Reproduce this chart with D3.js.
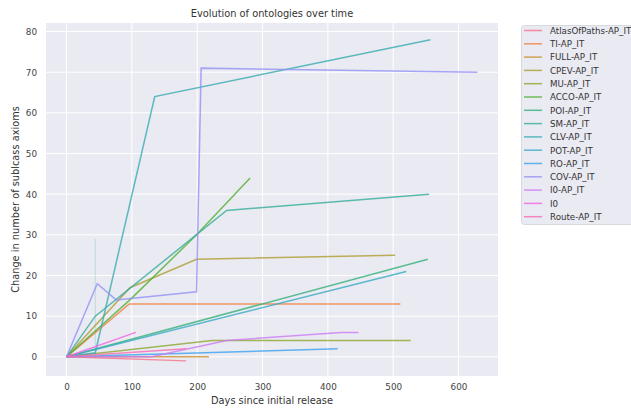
<!DOCTYPE html>
<html><head><meta charset="utf-8">
<script src="https://cdn.jsdelivr.net/npm/d3@7"></script>
<style>body{margin:0;background:#fff;} text{font-family:"DejaVu Sans",sans-serif;}</style>
</head><body>
<svg id="c" width="631" height="409"></svg>
<script>
const seriesNames = ["AtlasOfPaths-AP_IT","TI-AP_IT","FULL-AP_IT","CPEV-AP_IT","MU-AP_IT","ACCO-AP_IT","POI-AP_IT","SM-AP_IT","CLV-AP_IT","POT-AP_IT","RO-AP_IT","COV-AP_IT","I0-AP_IT","I0","Route-AP_IT"];
const seriesDays = [
  [0,183],
  [0,96,511],
  [0,218],
  [0,97,199,503],
  [0,223,527],
  [0,97,199,281],
  [0,553],
  [0,44,245,555],
  [0,44,135,557],
  [0,520],
  [0,415],
  [0,47,76,199,206,629],
  [0,130,245,420,447],
  [0,106],
  [0,183]
];
const seriesValues = [
  [0,-1],
  [0,13,13],
  [0,0],
  [0,17,24,25],
  [0,4,4],
  [0,14,30,44],
  [0,24],
  [0,10,36,40],
  [0,1,64,78],
  [0,21],
  [0,2],
  [0,18,14,16,71,70],
  [0,0,4,6,6],
  [0,6],
  [0,2]
];
const colors = ["#f77189","#f07e3f","#c99132","#ae9d31","#8fa631","#50b131","#33b07a","#35ae9a","#37abb0","#38a9c5","#3ba3ec","#9491f4","#cc7af4","#f363e2","#f66bb3"];
// confidence band (zero-width) for CLV at duplicated day
const bandDay = 44, bandLow = 0, bandHigh = 29;
const xTicks = [0,100,200,300,400,500,600];
const yTicks = [0,10,20,30,40,50,60,70,80];

const svg = d3.select("#c");
const L=46, R=498, T=23, B=376;
const x = d3.scaleLinear().domain([-31.45,660.45]).range([L,R]);
const y = d3.scaleLinear().domain([-4.72,82.1]).range([B,T]);

svg.append("rect").attr("x",L).attr("y",T).attr("width",R-L).attr("height",B-T).attr("fill","#eaeaf2");
const g = svg.append("g");
g.selectAll(".gx").data(xTicks).enter().append("line")
  .attr("x1",d=>x(d)).attr("x2",d=>x(d)).attr("y1",T).attr("y2",B)
  .attr("stroke","#fff").attr("stroke-width",1);
g.selectAll(".gy").data(yTicks).enter().append("line")
  .attr("y1",d=>y(d)).attr("y2",d=>y(d)).attr("x1",L).attr("x2",R)
  .attr("stroke","#fff").attr("stroke-width",1);

const xAxis = d3.axisBottom(x).tickValues(xTicks).tickSize(0).tickPadding(8);
const yAxis = d3.axisLeft(y).tickValues(yTicks).tickSize(0).tickPadding(9);
const gx = svg.append("g").attr("transform",`translate(0,${B})`).call(xAxis);
const gy = svg.append("g").attr("transform",`translate(${L},0)`).call(yAxis);
[gx,gy].forEach(a=>{a.select(".domain").remove();
  a.selectAll("text").attr("fill","#444").style("font-size","8.8px").style("font-family","DejaVu Sans");});

// band
svg.append("line").attr("x1",x(bandDay)).attr("x2",x(bandDay)).attr("y1",y(bandLow)).attr("y2",y(bandHigh))
  .attr("stroke",colors[8]).attr("stroke-opacity",0.25).attr("stroke-width",1);

const line = d3.line().x(d=>x(d[0])).y(d=>y(d[1]));
seriesNames.forEach((n,i)=>{
  const pts = seriesDays[i].map((d,j)=>[d,seriesValues[i][j]]);
  svg.append("path").attr("d",line(pts)).attr("fill","none")
    .attr("stroke",colors[i]).attr("stroke-width",1.5).attr("stroke-opacity",0.8)
    .attr("stroke-linejoin","miter");
});

svg.append("text").attr("x",(L+R)/2).attr("y",17).attr("text-anchor","middle")
  .attr("fill","#333").style("font-size","9.8px").text("Evolution of ontologies over time");
svg.append("text").attr("x",(L+R)/2).attr("y",404).attr("text-anchor","middle")
  .attr("fill","#333").style("font-size","9.8px").text("Days since initial release");
svg.append("text").attr("transform",`translate(19,${(T+B)/2}) rotate(-90)`).attr("text-anchor","middle")
  .attr("fill","#333").style("font-size","9.8px").text("Change in number of sublcass axioms");

// legend
const lg = svg.append("g");
lg.append("rect").attr("x",521.5).attr("y",25.5).attr("width",120).attr("height",199).attr("rx",3)
  .attr("fill","#eaeaf2").attr("stroke","#d8d8df").attr("stroke-width",1);
seriesNames.forEach((n,i)=>{
  const yy = 30.5 + i*13.3;
  lg.append("line").attr("x1",524).attr("x2",542).attr("y1",yy).attr("y2",yy)
    .attr("stroke",colors[i]).attr("stroke-width",1.5).attr("stroke-opacity",0.8);
  lg.append("text").attr("x",550).attr("y",yy+3.3).attr("fill","#333").style("font-size","8.7px").text(n);
});
</script>
</body></html>
